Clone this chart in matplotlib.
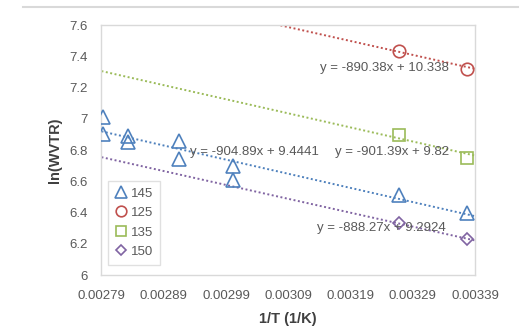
import numpy as np
import matplotlib
matplotlib.use("Agg")
import matplotlib.pyplot as plt
from matplotlib.lines import Line2D

# 1/T values (1/K) and ln(WVTR) per series
x_145 = [0.002792, 0.002792, 0.002832, 0.002832, 0.002914, 0.002914,
         0.003002, 0.003002, 0.003268, 0.003377]
y_145 = [7.01, 6.90, 6.89, 6.85, 6.86, 6.74, 6.70, 6.61, 6.51, 6.40]

x_125 = [0.003268, 0.003377]
y_125 = [7.435, 7.32]

x_135 = [0.003268, 0.003377]
y_135 = [6.895, 6.752]

x_150 = [0.003268, 0.003377]
y_150 = [6.335, 6.228]

series_names = ["145", "125", "135", "150"]

# linear trendlines as drawn (slope, intercept)
trend_slope = [-904.89, -890.38, -901.39, -888.27]
trend_intercept = [9.4441, 10.338, 9.82, 9.2324]
equations = ["y = -904.89x + 9.4441", "y = -890.38x + 10.338",
             "y = -901.39x + 9.82", "y = -888.27x + 9.2924"]

x_ticks = [0.00279, 0.00289, 0.00299, 0.00309, 0.00319, 0.00329, 0.00339]
y_ticks = [6, 6.2, 6.4, 6.6, 6.8, 7, 7.2, 7.4, 7.6]

plt.rcParams["font.family"] = ["Liberation Sans", "DejaVu Sans"]

colors = ["#4F81BD", "#C0504D", "#9BBB59", "#8064A2"]
markers = ["^", "o", "s", "D"]
sizes = [9.5, 9, 9, 6.5]
text_pos = [(0.237, 0.492), (0.585, 0.828), (0.625, 0.492), (0.577, 0.188)]
grey_text = "#595959"

fig = plt.figure(figsize=(5.31, 3.29), dpi=100)
ax = fig.add_axes([0.1911, 0.1641, 0.7034, 0.7599])

xs = [x_145, x_125, x_135, x_150]
ys = [y_145, y_125, y_135, y_150]
handles = []
xl = np.array([x_ticks[0], x_ticks[-1]])
for i in range(len(series_names)):
    c = colors[i]
    # trendline spans the whole axis, like Excel's forecast option
    ax.plot(xl, trend_slope[i] * xl + trend_intercept[i],
            linestyle=(0, (1, 1.3)), color=c, linewidth=1.4, zorder=2)
    ax.plot(xs[i], ys[i], linestyle="none", marker=markers[i],
            markersize=sizes[i], markerfacecolor="none", markeredgecolor=c,
            markeredgewidth=1.2, zorder=3)
    handles.append(Line2D([], [], linestyle="none", marker=markers[i],
                          markersize=sizes[i] * 0.85, markerfacecolor="none",
                          markeredgecolor=c, markeredgewidth=1.2,
                          label=series_names[i]))

for eq, (tx, ty) in zip(equations, text_pos):
    ax.text(tx, ty, eq, transform=ax.transAxes, ha="left", va="center",
            fontsize=9.5, color=grey_text, zorder=4)

ax.set_xlim(x_ticks[0], x_ticks[-1])
ax.set_ylim(y_ticks[0], y_ticks[-1])
ax.set_xticks(x_ticks)
ax.set_xticklabels([f"{v:.5f}" for v in x_ticks])
ax.set_yticks(y_ticks)
ax.set_yticklabels([f"{v:g}" for v in y_ticks])
ax.tick_params(length=0, labelsize=9.5, labelcolor=grey_text)
ax.tick_params(axis="x", pad=11)
ax.tick_params(axis="y", pad=10)
for sp in ax.spines.values():
    sp.set_color("#d9d9d9")
    sp.set_linewidth(1.0)

ax.set_xlabel("1/T (1/K)", fontsize=10.5, fontweight="bold", color="#404040",
              labelpad=7)
ax.set_ylabel("ln(WVTR)", fontsize=10.5, fontweight="bold", color="#404040",
              labelpad=5)

leg = ax.legend(handles=handles, loc="lower left", bbox_to_anchor=(0.0, 0.015),
                fontsize=9.5, frameon=True, fancybox=False, handlelength=0.9,
                handletextpad=0.35, borderpad=0.5, labelspacing=0.55,
                labelcolor=grey_text)
leg.get_frame().set_edgecolor("#d9d9d9")
leg.get_frame().set_linewidth(1.0)

# top edge of the chart border
fig.add_artist(Line2D([23 / 531, 518 / 531], [1 - 7 / 329, 1 - 7 / 329],
                      color="#d9d9d9", linewidth=1.5))

fig.savefig("out.png", dpi=100, facecolor="white")
